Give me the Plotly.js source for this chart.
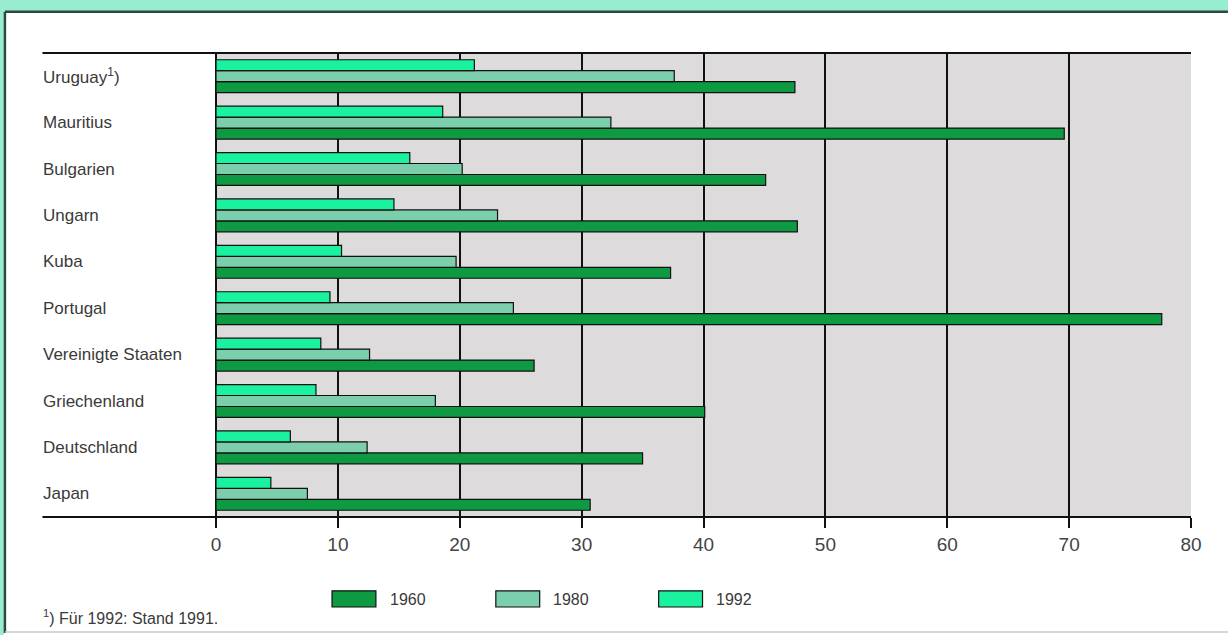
<!DOCTYPE html>
<html>
<head>
<meta charset="utf-8">
<script src="https://cdn.plot.ly/plotly-3.0.1.min.js"></script>
<style>html,body{margin:0;padding:0;background:#ffffff;}#chart{width:1228px;height:635px;}</style>
</head>
<body>
<div id="chart"></div>
<script>
// Categories listed bottom-to-top
const countries = ["Japan", "Deutschland", "Griechenland", "Vereinigte Staaten", "Portugal", "Kuba", "Ungarn", "Bulgarien", "Mauritius", "Uruguay"];
const countryLabels = ["Japan", "Deutschland", "Griechenland", "Vereinigte Staaten", "Portugal", "Kuba", "Ungarn", "Bulgarien", "Mauritius", "Uruguay<sup>1</sup>)"];
const v1960 = [30.7, 35.0, 40.1, 26.1, 77.6, 37.3, 47.7, 45.1, 69.6, 47.5];
const v1980 = [7.5, 12.4, 18.0, 12.6, 24.4, 19.7, 23.1, 20.2, 32.4, 37.6];
const v1992 = [4.5, 6.1, 8.2, 8.6, 9.35, 10.3, 14.6, 15.9, 18.6, 21.2];
const seriesNames = ["1960", "1980", "1992"];
const seriesColors = ["#0e9a42", "#7ccfac", "#1af2a0"];
const xTicks = [0, 10, 20, 30, 40, 50, 60, 70, 80];
const footnote = "<sup>1</sup>) Für 1992: Stand 1991.";

const seriesValues = [v1960, v1980, v1992];
const traces = seriesValues.map((vals, i) => ({
  type: "bar",
  orientation: "h",
  name: seriesNames[i],
  y: countries,
  x: vals,
  marker: {color: seriesColors[i], line: {color: "#111", width: 1.2}},
  showlegend: false,
  hoverinfo: "x+name"
}));

const FAMILY = "Liberation Sans, Arial, sans-serif";
const textFont = {family: FAMILY, size: 17, color: "#3a3a3a"};

const annotations = countries.map((c, i) => ({
  xref: "paper", yref: "y", x: -0.179, y: c, text: countryLabels[i],
  xanchor: "left", yanchor: "middle", showarrow: false, font: textFont
}));

const AQUA = "#98ecd0";
const legX = [0.119, 0.287, 0.454];
const shapes = [
  // aqua frame strips (top and left)
  {type: "rect", xref: "paper", yref: "paper", x0: -0.25, x1: 1.05, y0: 1.09, y1: 1.2,
   fillcolor: AQUA, line: {width: 0}, layer: "below"},
  {type: "rect", xref: "paper", yref: "paper", x0: -0.25, x1: -0.2175, y0: -0.3, y1: 1.2,
   fillcolor: AQUA, line: {width: 0}, layer: "below"},
  // dark panel border (top and left)
  {type: "line", xref: "paper", yref: "paper", x0: -0.2165, x1: 1.05, y0: 1.089, y1: 1.089,
   line: {color: "#2f4a3c", width: 2.5}},
  {type: "line", xref: "paper", yref: "paper", x0: -0.2165, x1: -0.2165, y0: -0.25, y1: 1.089,
   line: {color: "#2f4a3c", width: 2.5}},
  // faint bottom edge
  {type: "line", xref: "paper", yref: "paper", x0: -0.2165, x1: 1.05, y0: -0.248, y1: -0.248,
   line: {color: "#c8c8c8", width: 1.5}},
  // gray plot background
  {type: "rect", xref: "x", yref: "paper", x0: 0, x1: 80, y0: 0, y1: 1,
   fillcolor: "#dddbdb", line: {width: 0}, layer: "below"},
  // top and bottom rules
  {type: "line", xref: "paper", yref: "paper", x0: -0.178, x1: 1, y0: 1, y1: 1, line: {color: "#111", width: 2}},
  {type: "line", xref: "paper", yref: "paper", x0: -0.178, x1: 1, y0: 0, y1: 0, line: {color: "#111", width: 2}}
];
seriesNames.forEach((n, i) => {
  shapes.push({type: "rect", xref: "paper", yref: "paper", x0: legX[i], x1: legX[i] + 0.045,
    y0: -0.194, y1: -0.159, fillcolor: seriesColors[i], line: {color: "#111", width: 1.2}});
  annotations.push({xref: "paper", yref: "paper", x: legX[i] + 0.057, y: -0.177, text: n,
    xanchor: "left", yanchor: "middle", showarrow: false, font: {family: FAMILY, size: 16, color: "#3a3a3a"}});
});
annotations.push({xref: "paper", yref: "paper", x: -0.179, y: -0.216, text: footnote,
  xanchor: "left", yanchor: "middle", showarrow: false,
  font: {family: FAMILY, size: 16, color: "#3a3a3a"}});

const layout = {
  width: 1228, height: 635,
  margin: {l: 216, r: 37, t: 53, b: 118},
  paper_bgcolor: "#ffffff",
  plot_bgcolor: "rgba(0,0,0,0)",
  barmode: "group",
  bargap: 0.29,
  bargroupgap: 0,
  showlegend: false,
  xaxis: {
    range: [0, 80], tickvals: xTicks, ticktext: xTicks.map(String),
    showgrid: true, gridcolor: "#111", gridwidth: 2,
    zeroline: true, zerolinecolor: "#111", zerolinewidth: 2,
    showline: false,
    ticks: "outside", ticklen: 10, tickwidth: 2, tickcolor: "#111",
    tickfont: {family: FAMILY, size: 19, color: "#444"}
  },
  yaxis: {
    type: "category", categoryorder: "array", categoryarray: countries,
    showticklabels: false, showgrid: false, zeroline: false, ticks: "",
    range: [-0.5, 9.5]
  },
  shapes: shapes,
  annotations: annotations
};

Plotly.newPlot("chart", traces, layout, {displayModeBar: false, staticPlot: true});
</script>
</body>
</html>
